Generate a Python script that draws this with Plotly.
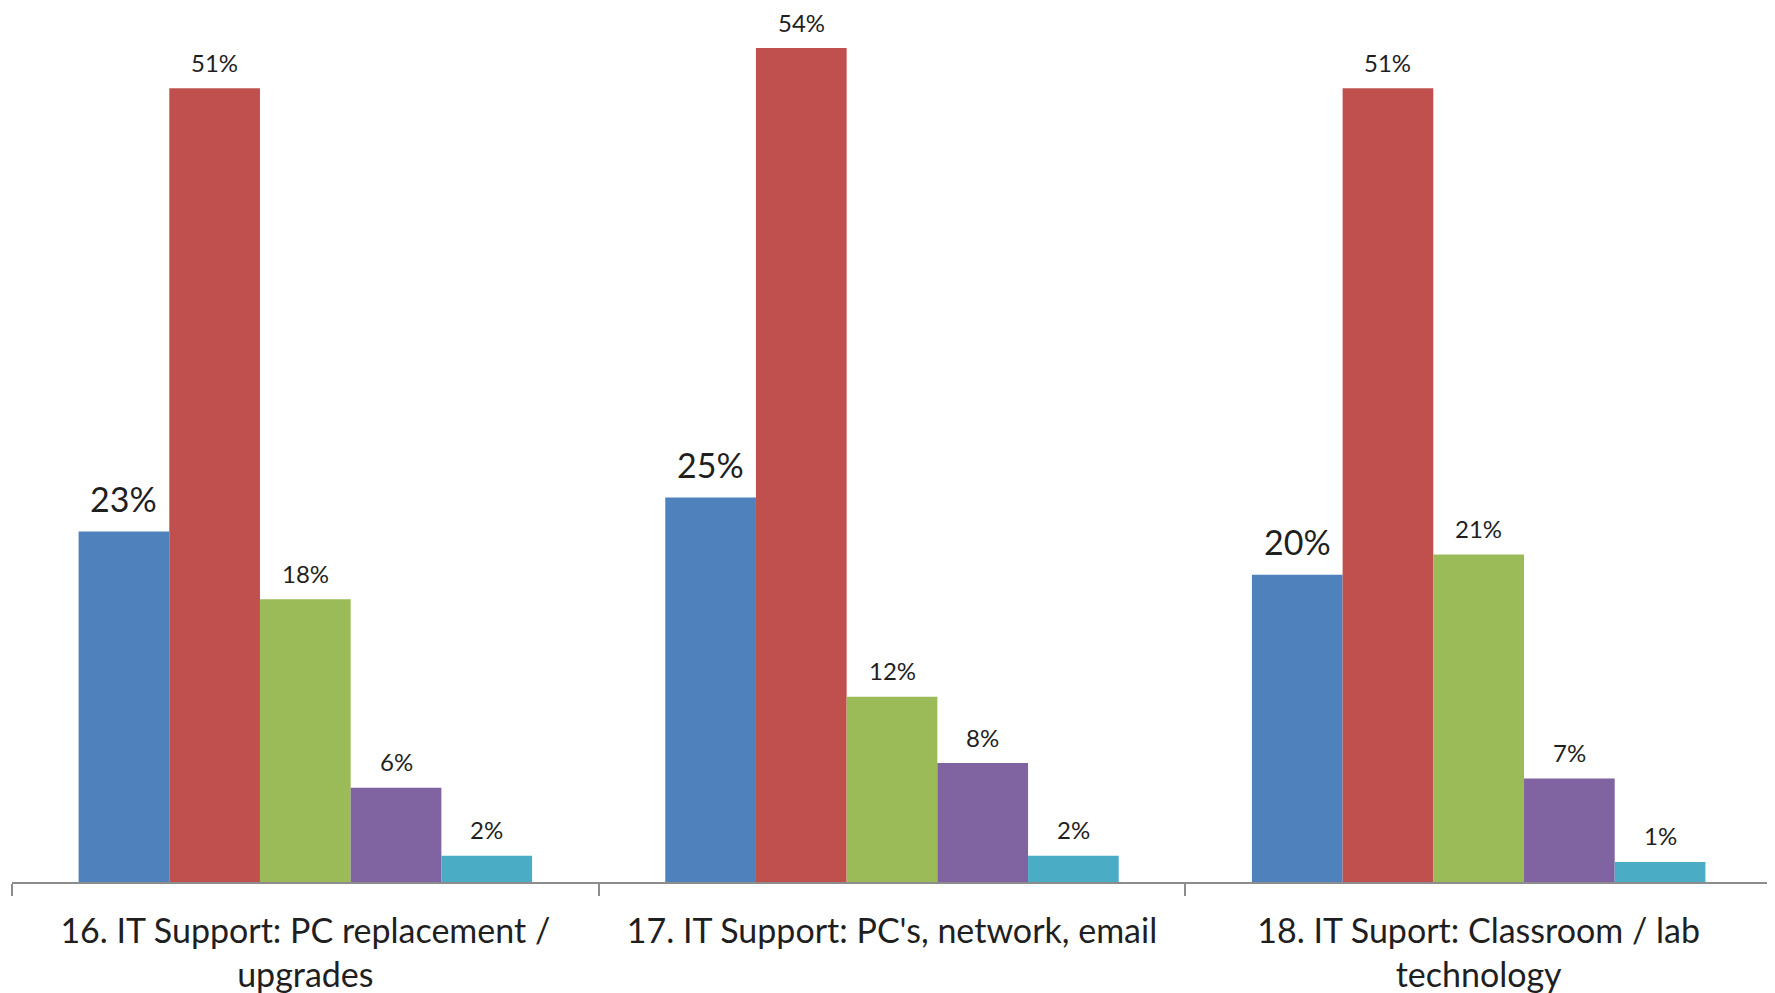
import plotly.graph_objects as go

categories = [
    "16. IT Support: PC replacement /<br>upgrades",
    "17. IT Support: PC's, network, email",
    "18. IT Suport: Classroom / lab<br>technology",
]
series_names = ["Series A", "Series B", "Series C", "Series D", "Series E"]
vals_a = [22.7, 24.9, 19.9]
vals_b = [51.4, 54.0, 51.4]
vals_c = [18.3, 12.0, 21.2]
vals_d = [6.1, 7.7, 6.7]
vals_e = [1.7, 1.7, 1.3]
all_vals = [vals_a, vals_b, vals_c, vals_d, vals_e]
colors = ["#4F81BD", "#C0504D", "#9BBB59", "#8064A2", "#4BACC6"]

FONT = "Lato"
BARGAP = 0.227

fig = go.Figure()
for name, vals, col in zip(series_names, all_vals, colors):
    fig.add_trace(go.Bar(
        x=categories, y=vals, name=name,
        marker=dict(color=col, line=dict(width=0)),
        hoverinfo="skip",
    ))

# data labels via annotations
n = len(all_vals)
w = (1 - BARGAP) / n
for j, vals in enumerate(all_vals):
    for i, v in enumerate(vals):
        xpos = i - (1 - BARGAP) / 2 + (j + 0.5) * w
        big = (j == 0)
        fig.add_annotation(
            x=xpos, y=v, xref="x", yref="y",
            text=f"{round(v):d}%", showarrow=False,
            yanchor="middle", xanchor="center",
            yshift=33 if big else 26,
            font=dict(family=FONT, size=34 if big else 24, color="#1f1f1f"),
        )

fig.update_layout(
    width=1767, height=985,
    margin=dict(l=4, r=3, t=0, b=111),
    paper_bgcolor="white", plot_bgcolor="white",
    bargap=BARGAP, bargroupgap=0,
    showlegend=False,
    barmode="group",
)
fig.update_xaxes(
    type="category",
    showline=True, linecolor="#8c8c8c", linewidth=2,
    ticks="outside", tickson="boundaries", ticklen=12, tickwidth=2, tickcolor="#8c8c8c",
    tickfont=dict(family=FONT, size=34, color="#1f1f1f"),
    ticklabelstandoff=18,
    showgrid=False, zeroline=False, automargin=False,
)
fig.update_yaxes(
    range=[0, 56.59], visible=False, showgrid=False, zeroline=False,
)

fig.write_html("out.html")
